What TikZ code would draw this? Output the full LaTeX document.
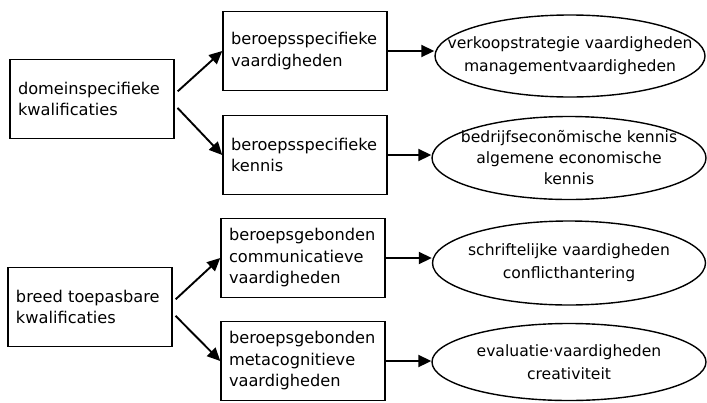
\documentclass[tikz,border=0pt]{standalone}
\usepackage{fontspec}
\setmainfont{DejaVu Sans}
\usetikzlibrary{positioning, shapes.geometric, arrows.meta}

\tikzset{
    kwal/.style={draw, line width=1.5pt, align=left, text width=148pt,
        inner xsep=8pt, minimum height=79pt,
        font=\fontsize{16.2}{21.5}\selectfont},
    oval/.style={draw, ellipse, line width=1.4pt, inner sep=0pt},
    ovaltext/.style={align=center, font=\fontsize{15.6}{23}\selectfont},
    pijl/.style={line width=1.9pt, -{Triangle[length=13pt, width=12pt]}}
}

\begin{document}
\begin{tikzpicture}[x=1pt, y=-1pt]
    \useasboundingbox (0, 0) rectangle (707, 402);

    \node[kwal] (dom) at (92, 99) {domeinspecifieke\\kwalificaties};
    \node[kwal] (breed) at (90, 307) {breed toepasbare\\kwalificaties};

    \node[kwal] (bsv) at (305, 51) {beroepsspecifieke\\vaardigheden};
    \node[kwal] (bsk) at (305, 155) {beroepsspecifieke\\kennis};
    \node[kwal] (bgc) at (303, 258) {beroepsgebonden\\communicatieve\\vaardigheden};
    \node[kwal] (bgm) at (303, 361) {beroepsgebonden\\metacognitieve\\vaardigheden};

    \node[oval, minimum width=270pt, minimum height=82pt] (e1) at (570, 56) {};
    \node[oval, minimum width=274pt, minimum height=83pt] (e2) at (569, 158) {};
    \node[oval, minimum width=273pt, minimum height=84pt] (e3) at (569, 263) {};
    \node[oval, minimum width=274pt, minimum height=77pt] (e4) at (569, 362) {};

    \node[ovaltext] (t1) at (e1) {verkoopstrategie vaardigheden\\managementvaardigheden};
    \node[ovaltext, font=\fontsize{15.6}{21}\selectfont] (t2) at (e2) {bedrijfseconõmische kennis\\algemene economische\\kennis};
    \node[ovaltext] (t3) at (e3) {schriftelijke vaardigheden\\conflicthantering};
    \node[ovaltext] (t4) at (e4) {evaluatie·vaardigheden\\creativiteit};

    \draw[pijl, shorten <=4pt] ([yshift=5pt]dom.east) -- (bsv.west);
    \draw[pijl, shorten <=4pt] ([yshift=-6pt]dom.east) -- (bsk.west);
    \draw[pijl, shorten <=4pt] ([yshift=5pt]breed.east) -- (bgc.west);
    \draw[pijl, shorten <=4pt] ([yshift=-6pt]breed.east) -- (bgm.west);

    \draw[pijl] (bsv.east) -- (bsv.east -| e1.west);
    \draw[pijl] (bsk.east) -- (bsk.east -| e2.west);
    \draw[pijl] (bgc.east) -- (bgc.east -| e3.west);
    \draw[pijl] (bgm.east) -- (bgm.east -| e4.west);
\end{tikzpicture}
\end{document}
